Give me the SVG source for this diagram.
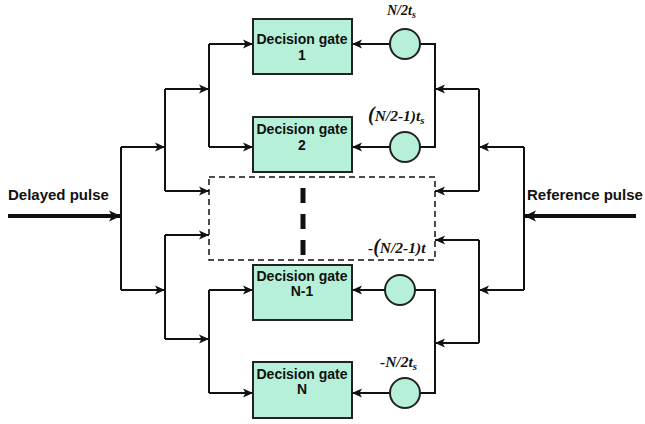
<svg xmlns="http://www.w3.org/2000/svg" width="645" height="424" viewBox="0 0 645 424">
<style>
.box{fill:#b6f0d8;stroke:#222;stroke-width:2}
.circ{fill:#b6f0d8;stroke:#222;stroke-width:2}
.bt{font-family:"Liberation Sans",Arial,sans-serif;font-weight:bold;font-size:14px;fill:#111;text-anchor:middle}
.pl{font-family:"Liberation Sans",Arial,sans-serif;font-weight:bold;font-size:15px;fill:#111}
.mt{font-family:"Liberation Serif","Times New Roman",serif;font-weight:bold;font-style:italic;font-size:14px;fill:#111}
.mt2{font-family:"Liberation Serif","Times New Roman",serif;font-weight:bold;font-style:italic;font-size:15.5px;fill:#111}
.w{fill:none;stroke:#111;stroke-width:2}
.a{fill:none;stroke:#111;stroke-width:2;marker-end:url(#ah)}
.thick{fill:none;stroke:#111;stroke-width:4;marker-end:url(#ahb)}
</style>
<defs>
<marker id="ah" markerUnits="userSpaceOnUse" markerWidth="10" markerHeight="10" refX="10" refY="5" orient="auto" viewBox="0 0 10 10">
<path d="M0,0.5 L10,5 L0,9.5 L2.5,5 z" fill="#111"/>
</marker>
<marker id="ahb" markerUnits="userSpaceOnUse" markerWidth="12" markerHeight="12" refX="12" refY="6" orient="auto" viewBox="0 0 12 12">
<path d="M0,0.5 L12,6 L0,11.5 L3,6 z" fill="#111"/>
</marker>
</defs>

<g id="connectors">
<path class="thick" d="M8,216 H121"/>
<path class="w" d="M121,147 V290"/>
<path class="a" d="M121,147 H165"/>
<path class="a" d="M121,290 H165"/>
<path class="w" d="M165,89 V191"/>
<path class="w" d="M165,235 V339"/>
<path class="a" d="M165,89 H209"/>
<path class="a" d="M165,191 H209"/>
<path class="a" d="M165,235 H209"/>
<path class="a" d="M165,339 H209"/>
<path class="w" d="M209,44 V147"/>
<path class="w" d="M209,290 V393"/>
<path class="a" d="M209,44 H253"/>
<path class="a" d="M209,147 H253"/>
<path class="a" d="M209,290 H253"/>
<path class="a" d="M209,393 H253"/>
<path class="thick" d="M636,216 H524"/>
<path class="w" d="M524,147 V290"/>
<path class="a" d="M524,147 H479"/>
<path class="a" d="M524,290 H479"/>
<path class="w" d="M479,89 V191"/>
<path class="w" d="M479,240 V343"/>
<path class="a" d="M479,89 H435"/>
<path class="a" d="M479,191 H435"/>
<path class="a" d="M479,240 H435"/>
<path class="a" d="M479,343 H435"/>
<path class="w" d="M420,44 H435 V147 H420"/>
<path class="w" d="M415,290 H435 V393 H420"/>
<path class="a" d="M390,44 H352"/>
<path class="a" d="M390,147 H352"/>
<path class="a" d="M385,290 H352"/>
<path class="a" d="M390,393 H352"/>
</g>

<g id="gate1">
<rect class="box" x="253" y="19" width="99" height="55"/>
<text class="bt" x="302" y="44">Decision gate</text>
<text class="bt" x="302" y="60">1</text>
</g>
<g id="gate2">
<rect class="box" x="253" y="117" width="99" height="55"/>
<text class="bt" x="302" y="134">Decision gate</text>
<text class="bt" x="302" y="150">2</text>
</g>
<g id="gateN1">
<rect class="box" x="253" y="265" width="99" height="55"/>
<text class="bt" x="302" y="281">Decision gate</text>
<text class="bt" x="302" y="296">N-1</text>
</g>
<g id="gateN">
<rect class="box" x="253" y="362" width="99" height="56"/>
<text class="bt" x="302" y="379">Decision gate</text>
<text class="bt" x="302" y="394">N</text>
</g>

<g id="delay1">
<circle class="circ" cx="405" cy="44" r="15"/>
<text class="mt" x="387" y="15">N/2t<tspan font-size="10" dy="3">s</tspan></text>
</g>
<g id="delay2">
<circle class="circ" cx="405" cy="147" r="15"/>
<text class="mt2" x="368" y="121"><tspan font-size="20">(</tspan>N/2-1)t<tspan font-size="11" dy="3">s</tspan></text>
</g>
<g id="delayN1">
<circle class="circ" cx="400" cy="290" r="15"/>
</g>
<g id="delayN">
<circle class="circ" cx="405" cy="393" r="15"/>
<text class="mt2" x="380" y="367">-N/2t<tspan font-size="11" dy="3">s</tspan></text>
</g>

<g id="ellipsis">
<rect x="209" y="177" width="226" height="83" fill="none" stroke="#111" stroke-width="1.5" stroke-dasharray="6 4"/>
<path d="M303,188 V256" stroke="#111" stroke-width="5" stroke-dasharray="15 11" fill="none"/>
<text class="mt2" x="368" y="253">-<tspan font-size="20">(</tspan>N/2-1)t</text>
</g>

<g id="labels">
<text class="pl" x="8" y="200">Delayed pulse</text>
<text class="pl" x="527" y="200">Reference pulse</text>
</g>
</svg>
